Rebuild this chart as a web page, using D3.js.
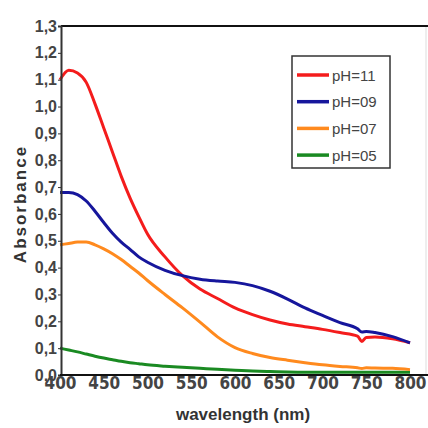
<!DOCTYPE html>
<html><head><meta charset="utf-8">
<script src="https://cdn.jsdelivr.net/npm/d3@7"></script>
<style>html,body{margin:0;padding:0;background:#fff;}svg{display:block;}</style>
</head><body>
<svg id="c" width="428" height="428"></svg>
<script>
const wavelengths = [400,410,420,430,440,450,460,470,480,490,500,520,540,560,580,600,620,640,660,680,700,720,740,745,750,760,780,800];
const pH11 = [1.10,1.135,1.125,1.09,1.01,0.92,0.83,0.74,0.66,0.59,0.525,0.44,0.37,0.32,0.285,0.25,0.225,0.205,0.19,0.18,0.17,0.158,0.145,0.125,0.14,0.142,0.135,0.12];
const pH09 = [0.68,0.68,0.672,0.648,0.61,0.568,0.528,0.495,0.468,0.44,0.42,0.39,0.37,0.357,0.35,0.345,0.333,0.312,0.283,0.25,0.222,0.195,0.172,0.16,0.162,0.158,0.143,0.12];
const pH07 = [0.485,0.49,0.495,0.495,0.485,0.47,0.452,0.43,0.405,0.38,0.352,0.30,0.25,0.197,0.142,0.102,0.08,0.065,0.055,0.046,0.038,0.032,0.027,0.024,0.027,0.026,0.025,0.02];
const pH05 = [0.10,0.093,0.086,0.078,0.07,0.063,0.057,0.051,0.046,0.042,0.038,0.033,0.029,0.025,0.021,0.018,0.015,0.013,0.011,0.01,0.01,0.01,0.01,0.01,0.01,0.01,0.01,0.01];
const seriesNames = ["pH=11","pH=09","pH=07","pH=05"];
const seriesColors = ["#f41c1c","#16169c","#ff8a1e","#1a8a22"];
const xTicks = [400,450,500,550,600,650,700,750,800];
const yTicks = [0,0.1,0.2,0.3,0.4,0.5,0.6,0.7,0.8,0.9,1.0,1.1,1.2,1.3];

const svg = d3.select("#c");
const x = d3.scaleLinear().domain([400,800]).range([60,410]);
const y = d3.scaleLinear().domain([0,1.3]).range([375,26]);
const fmt = v => d3.format(".1f")(v).replace(".", ",");

// frame
svg.append("line").attr("x1",426).attr("x2",426).attr("y1",26).attr("y2",375).attr("stroke","#ddd").attr("stroke-width",1);
svg.append("line").attr("x1",61).attr("x2",428).attr("y1",26).attr("y2",26).attr("stroke","#111").attr("stroke-width",2);

const allSeries = [pH11,pH09,pH07,pH05];
const line = d3.line().x((d,i)=>x(wavelengths[i])).y(d=>y(d)).curve(d3.curveMonotoneX);
[3,2,0,1].forEach(k=>{
  svg.append("path").datum(allSeries[k]).attr("d",line).attr("fill","none")
    .attr("stroke",seriesColors[k]).attr("stroke-width",3).attr("stroke-linejoin","round");
});

// axes
const yAxis = svg.append("g").attr("transform","translate(61,0)")
  .call(d3.axisLeft(y).tickValues(yTicks).tickFormat(fmt).tickSize(3).tickPadding(1));
yAxis.select(".domain").attr("stroke","#333").attr("stroke-width",2);
yAxis.selectAll(".tick line").attr("stroke","#333");
yAxis.selectAll("text").attr("fill","#444").style("font-family","'Liberation Sans',Arial,sans-serif")
  .style("font-weight","bold").style("font-size","16px");

const xAxis = svg.append("g").attr("transform","translate(0,375)")
  .call(d3.axisBottom(x).tickValues(xTicks).tickFormat(d3.format("d")).tickSize(2).tickPadding(0));
xAxis.select(".domain").remove();
svg.append("line").attr("x1",60).attr("x2",428).attr("y1",375).attr("y2",375).attr("stroke","#111").attr("stroke-width",2);
xAxis.selectAll(".tick line").attr("stroke","#333");
xAxis.selectAll("text").attr("fill","#444").style("font-family","'Liberation Sans Narrow','DejaVu Sans Condensed',sans-serif")
  .style("font-weight","bold").style("font-size","17px");

// axis titles
svg.append("text").attr("x",243).attr("y",420).attr("text-anchor","middle")
  .style("font-family","'Liberation Sans Narrow','Liberation Sans',sans-serif").style("font-weight","bold")
  .style("font-size","17px").attr("fill","#333").text("wavelength (nm)");
svg.append("text").attr("transform","translate(26,204) rotate(-90)").attr("text-anchor","middle")
  .style("font-family","'Liberation Sans',Arial,sans-serif").style("font-weight","bold")
  .style("font-size","17px").style("letter-spacing","2px").attr("fill","#333").text("Absorbance");

// legend
const lg = svg.append("g");
lg.append("rect").attr("x",292).attr("y",56).attr("width",98).attr("height",112)
  .attr("fill","#fff").attr("stroke","#333").attr("stroke-width",1.5);
seriesNames.forEach((n,i)=>{
  const yy = 75 + i*26.7;
  lg.append("line").attr("x1",297).attr("x2",329).attr("y1",yy).attr("y2",yy)
    .attr("stroke",seriesColors[i]).attr("stroke-width",3.5);
  lg.append("text").attr("x",332).attr("y",yy+5.5).text(n)
    .style("font-family","'Liberation Sans',Arial,sans-serif").style("font-size","15px").attr("fill","#444");
});
</script>
</body></html>
